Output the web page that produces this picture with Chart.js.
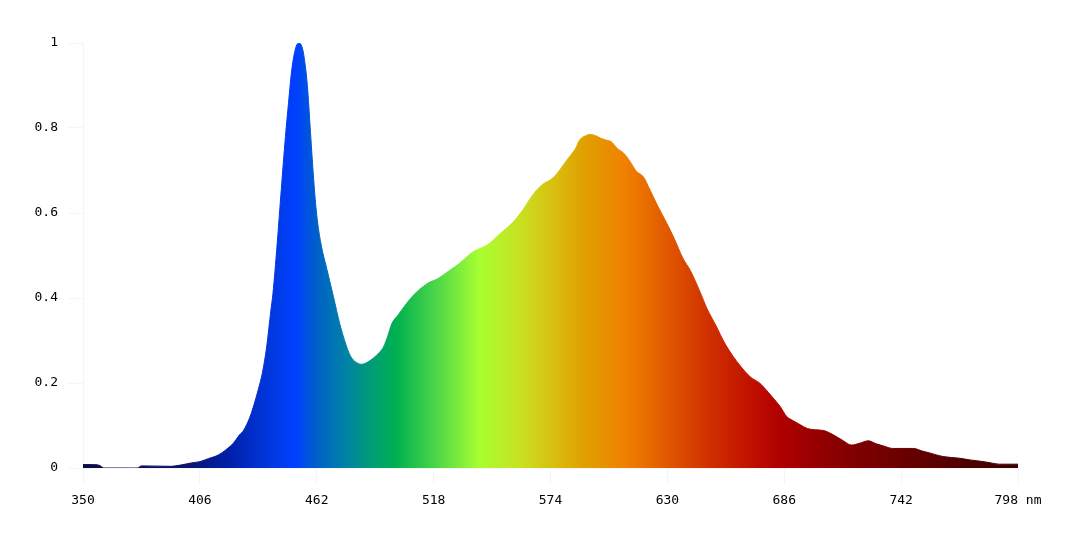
<!DOCTYPE html>
<html>
<head>
<meta charset="utf-8">
<script src="https://cdn.jsdelivr.net/npm/chart.js@4/dist/chart.umd.min.js"></script>
<style>
  html, body { margin: 0; padding: 0; background: #fff; }
  #wrap { width: 1079px; height: 541px; }
</style>
</head>
<body>
<div id="wrap"><canvas id="spectrum" width="1079" height="541"></canvas></div>
<script>
// wavelength (nm) and relative intensity
const wavelengths = [
  350, 354, 358, 360, 376, 378, 392, 398, 402, 406, 410, 415, 419, 422, 425, 427, 430, 432, 434, 436,
  438, 440, 441, 443, 445, 447, 448.5, 450, 452, 453.5, 455, 456, 457.5, 459, 460.5, 462, 464, 467, 470, 473,
  476, 478, 480, 483.5, 486, 489, 492, 494, 496, 498, 501, 505, 509, 513, 516, 519.5, 522, 526, 530, 534,
  537, 541, 545, 548, 551, 556, 561, 564, 567, 571, 574, 577, 580, 583, 586, 588, 591, 593, 596, 598,
  601, 603, 606, 609, 612, 615, 618.5, 621.7, 625, 629.7, 633, 637.6, 641, 645.6, 649, 653.6, 657, 661.6, 665, 669.6,
  674.4, 676, 680.8, 684, 687.2, 690, 693.6, 697, 701, 705, 709.5, 714, 718.3, 722, 726.3, 730, 733.5, 738, 748, 752,
  756, 762, 770, 775, 780, 785, 789, 798
];
const intensity = [
  0.008, 0.008, 0.006, 0.0, 0.0, 0.005, 0.004, 0.008, 0.012, 0.015, 0.022, 0.031, 0.045, 0.058, 0.078, 0.089, 0.12, 0.15, 0.185, 0.225,
  0.285, 0.37, 0.41, 0.525, 0.655, 0.78, 0.86, 0.936, 0.99, 1.0, 0.99, 0.965, 0.9, 0.79, 0.68, 0.595, 0.528, 0.465, 0.403, 0.34,
  0.29, 0.265, 0.252, 0.244, 0.248, 0.258, 0.272, 0.285, 0.31, 0.34, 0.36, 0.387, 0.41, 0.427, 0.437, 0.444, 0.452, 0.466, 0.48, 0.497,
  0.509, 0.518, 0.529, 0.543, 0.556, 0.578, 0.609, 0.632, 0.652, 0.67, 0.678, 0.692, 0.712, 0.732, 0.752, 0.772, 0.782, 0.785, 0.781, 0.776,
  0.771, 0.768, 0.752, 0.741, 0.722, 0.699, 0.685, 0.654, 0.62, 0.576, 0.543, 0.492, 0.465, 0.415, 0.375, 0.332, 0.298, 0.262, 0.24, 0.215,
  0.199, 0.191, 0.164, 0.145, 0.121, 0.112, 0.102, 0.093, 0.09, 0.088, 0.078, 0.065, 0.054, 0.058, 0.064, 0.057, 0.052, 0.046, 0.046, 0.04,
  0.035, 0.027, 0.023, 0.019, 0.016, 0.012, 0.009, 0.009
];

const xTicks = [350, 406, 462, 518, 574, 630, 686, 742, 798];
const yTicks = [0, 0.2, 0.4, 0.6, 0.8, 1];

// colour stops along the wavelength axis
const stopNm = [350, 400, 420, 440, 452, 462, 475, 490, 500, 520, 540, 560, 575, 590, 610, 630, 650, 670, 684, 700, 720, 745, 770, 798];
const stopColor = ["#0b0b45", "#0a1470", "#0020a8", "#0038e0", "#0040ff", "#0060c8", "#0080a8", "#00a070", "#00b050", "#50d848",
  "#a8ff30", "#c8e020", "#d8c010", "#e0a000", "#f08000", "#e05800", "#d03000", "#c01000", "#b00000", "#980000",
  "#800000", "#680000", "#500000", "#3a0000"];

function spectrumFill(context) {
  const chart = context.chart;
  const area = chart.chartArea;
  if (!area) return "#0040ff";
  const xs = chart.scales.x;
  const g = chart.ctx.createLinearGradient(area.left, 0, area.right, 0);
  const w = area.right - area.left;
  stopNm.forEach((nm, i) => {
    let t = (xs.getPixelForValue(nm) - area.left) / w;
    t = Math.min(1, Math.max(0, t));
    g.addColorStop(t, stopColor[i]);
  });
  return g;
}

const faint = "rgba(0,0,0,0.04)";
const tickFont = { family: "'DejaVu Sans Mono', monospace", size: 13 };

new Chart(document.getElementById("spectrum"), {
  type: "line",
  data: {
    datasets: [{
      data: wavelengths.map((w, i) => ({ x: w, y: intensity[i] })),
      fill: "origin",
      backgroundColor: spectrumFill,
      borderColor: spectrumFill,
      borderWidth: 1,
      pointRadius: 0,
      cubicInterpolationMode: "monotone"
    }]
  },
  options: {
    responsive: false,
    animation: false,
    layout: { padding: { top: 43, right: 61, left: 0, bottom: 0 } },
    plugins: { legend: { display: false }, tooltip: { enabled: false } },
    scales: {
      x: {
        type: "linear",
        min: 350,
        max: 798,
        afterBuildTicks: s => { s.ticks = xTicks.map(v => ({ value: v })); },
        afterFit: s => { s.height = 73; },
        ticks: {
          color: "#000",
          font: tickFont,
          padding: 9,
          maxRotation: 0,
          autoSkip: false,
          callback: v => v === 798 ? "798 nm" : String(v)
        },
        grid: { drawOnChartArea: false, color: faint, tickLength: 16 },
        border: { color: faint }
      },
      y: {
        min: 0,
        max: 1,
        afterBuildTicks: s => { s.ticks = yTicks.map(v => ({ value: v })); },
        afterFit: s => { s.width = 83; },
        ticks: {
          color: "#000",
          font: tickFont,
          padding: 10,
          callback: v => String(Math.round(v * 10) / 10)
        },
        grid: { drawOnChartArea: false, color: faint, tickLength: 15 },
        border: { color: faint }
      }
    }
  }
});
</script>
</body>
</html>
